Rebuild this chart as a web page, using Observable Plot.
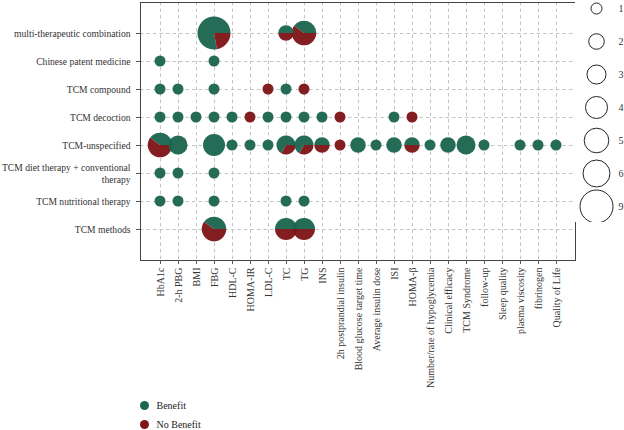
<!DOCTYPE html>
<html><head><meta charset="utf-8">
<script src="https://cdn.jsdelivr.net/npm/d3@7"></script>
<script src="https://cdn.jsdelivr.net/npm/@observablehq/plot@0.6"></script>
<style>
body{margin:0;background:#fff;}
#wrap{position:relative;width:624px;height:430px;overflow:hidden;font-family:"Liberation Serif",serif;}
#sizeLegend{position:absolute;left:575px;top:0;}
#colorLegend{position:absolute;left:139.5px;top:396px;font-size:10px;color:#222;}
.sw{display:flex;align-items:center;height:19px;}
.dot{width:9px;height:9px;border-radius:50%;margin-right:8px;}
</style></head><body>
<div id="wrap"><div id="main"></div><div id="sizeLegend"></div><div id="colorLegend"></div></div>
<script>
const interventions = [
  "multi-therapeutic combination",
  "Chinese patent medicine",
  "TCM compound",
  "TCM decoction",
  "TCM-unspecified",
  "TCM diet therapy + conventional therapy",
  "TCM nutritional therapy",
  "TCM methods"
];
const outcomes = [
  "HbA1c","2-h PBG","BMI","FBG","HDL-C","HOMA-IR","LDL-C","TC","TG","INS",
  "2h postprandial insulin","Blood glucose target time","Average insulin dose","ISI","HOMA-β",
  "Number/rate of hypoglycemia","Clinical efficacy","TCM Syndrome","follow-up","Sleep quality",
  "plasma viscosity","fibrinogen","Quality of Life"
];
const seriesNames = ["Benefit", "No Benefit"];
const seriesColors = ["#1c6650", "#7e1518"];
const sizeBreaks = [1, 2, 3, 4, 5, 6, 9];
// [intervention, outcome, benefit count, no-benefit count]
const studies = [
  ["multi-therapeutic combination","FBG",7,2],
  ["multi-therapeutic combination","TC",1,1],
  ["multi-therapeutic combination","TG",2,3],
  ["Chinese patent medicine","HbA1c",1,0],
  ["Chinese patent medicine","FBG",1,0],
  ["TCM compound","HbA1c",1,0],
  ["TCM compound","2-h PBG",1,0],
  ["TCM compound","FBG",1,0],
  ["TCM compound","LDL-C",0,1],
  ["TCM compound","TC",1,0],
  ["TCM compound","TG",0,1],
  ["TCM decoction","HbA1c",1,0],
  ["TCM decoction","2-h PBG",1,0],
  ["TCM decoction","BMI",1,0],
  ["TCM decoction","FBG",1,0],
  ["TCM decoction","HDL-C",1,0],
  ["TCM decoction","HOMA-IR",0,1],
  ["TCM decoction","LDL-C",1,0],
  ["TCM decoction","TC",1,0],
  ["TCM decoction","TG",1,0],
  ["TCM decoction","INS",1,0],
  ["TCM decoction","2h postprandial insulin",0,1],
  ["TCM decoction","ISI",1,0],
  ["TCM decoction","HOMA-β",0,1],
  ["TCM-unspecified","HbA1c",2,3],
  ["TCM-unspecified","2-h PBG",3,0],
  ["TCM-unspecified","FBG",4,0],
  ["TCM-unspecified","HDL-C",1,0],
  ["TCM-unspecified","HOMA-IR",1,0],
  ["TCM-unspecified","LDL-C",1,0],
  ["TCM-unspecified","TC",2,1],
  ["TCM-unspecified","TG",2,1],
  ["TCM-unspecified","INS",1,1],
  ["TCM-unspecified","2h postprandial insulin",0,1],
  ["TCM-unspecified","Blood glucose target time",2,0],
  ["TCM-unspecified","Average insulin dose",1,0],
  ["TCM-unspecified","ISI",2,0],
  ["TCM-unspecified","HOMA-β",1,1],
  ["TCM-unspecified","Number/rate of hypoglycemia",1,0],
  ["TCM-unspecified","Clinical efficacy",2,0],
  ["TCM-unspecified","TCM Syndrome",3,0],
  ["TCM-unspecified","follow-up",1,0],
  ["TCM-unspecified","plasma viscosity",1,0],
  ["TCM-unspecified","fibrinogen",1,0],
  ["TCM-unspecified","Quality of Life",1,0],
  ["TCM diet therapy + conventional therapy","HbA1c",1,0],
  ["TCM diet therapy + conventional therapy","2-h PBG",1,0],
  ["TCM diet therapy + conventional therapy","FBG",1,0],
  ["TCM nutritional therapy","HbA1c",1,0],
  ["TCM nutritional therapy","2-h PBG",1,0],
  ["TCM nutritional therapy","FBG",1,0],
  ["TCM nutritional therapy","TC",1,0],
  ["TCM nutritional therapy","TG",1,0],
  ["TCM methods","FBG",2,3],
  ["TCM methods","TC",2,2],
  ["TCM methods","TG",2,2]
];

const pieData = studies.map(([intervention, outcome, b, nb]) => ({intervention, outcome, b, nb, total: b + nb}));

const rScale = {type: "sqrt", domain: [1, 9], range: [5.5, 16.5]};
const fontStyle = {fontFamily: "'Liberation Serif', serif", fontSize: "10px", color: "#333", background: "#fff"};

function pieRender(index, scales, values) {
  const g = d3.create("svg:g");
  const arc = d3.arc().innerRadius(0);
  for (const i of index) {
    const d = pieData[i];
    const cx = values.x[i], cy = values.y[i], rr = values.r[i];
    const parts = [d.b, d.nb];
    let acc = 0;
    parts.forEach((v, k) => {
      if (v <= 0) return;
      const f0 = acc / d.total, f1 = (acc + v) / d.total;
      acc += v;
      const path = arc({outerRadius: rr, startAngle: Math.PI / 2 - 2 * Math.PI * f1, endAngle: Math.PI / 2 - 2 * Math.PI * f0});
      g.append("path")
        .attr("transform", `translate(${cx},${cy})`)
        .attr("d", path)
        .attr("fill", seriesColors[k])
        .attr("fill-opacity", 0.96);
    });
  }
  return g.node();
}

const main = Plot.plot({
  width: 624, height: 390,
  marginLeft: 140, marginRight: 49, marginTop: 2, marginBottom: 130,
  style: fontStyle,
  x: {type: "point", domain: outcomes, padding: 1},
  y: {type: "point", domain: interventions, padding: 1},
  r: rScale,
  marks: [
    Plot.gridX({stroke: "#c4c4c4", strokeOpacity: 1, strokeDasharray: "3.5,3"}),
    Plot.gridY({stroke: "#c4c4c4", strokeOpacity: 1, strokeDasharray: "3.5,3"}),
    Plot.frame({stroke: "#444", strokeWidth: 1}),
    Plot.axisX({tickRotate: -90, tickSize: 4, tickPadding: 3, label: null, stroke: "#555", fill: "#333"}),
    Plot.axisY({tickSize: 4, tickPadding: 6, label: null, stroke: "#555", fill: "#333", lineHeight: 1.2,
      fontSize: 9.6, fontFamily: "'Liberation Serif', serif",
      tickFormat: d => d.replace("+ conventional therapy", "+ conventional\ntherapy")}),
    Plot.dot(pieData, {x: "outcome", y: "intervention", r: "total", fill: seriesColors[0], render: pieRender})
  ]
});
document.getElementById("main").appendChild(main);

const sizeLeg = Plot.plot({
  width: 49, height: 222,
  marginLeft: 0, marginRight: 7, marginTop: 0, marginBottom: 0,
  style: fontStyle,
  y: {type: "point", domain: sizeBreaks.map(String), range: [6, 207], padding: 0, axis: null},
  r: rScale,
  marks: [
    Plot.dot(sizeBreaks, {y: d => String(d), r: d => d, stroke: "#222", fill: "none", strokeWidth: 1}),
    Plot.text(sizeBreaks, {y: d => String(d), text: d => String(d), dx: 22, textAnchor: "start", fill: "#333"})
  ]
});
document.getElementById("sizeLegend").appendChild(sizeLeg);

const cl = document.getElementById("colorLegend");
seriesNames.forEach((name, k) => {
  const row = document.createElement("div");
  row.className = "sw";
  const dot = document.createElement("span");
  dot.className = "dot";
  dot.style.background = seriesColors[k];
  const label = document.createElement("span");
  label.textContent = name;
  row.appendChild(dot);
  row.appendChild(label);
  cl.appendChild(row);
});
</script>
</body></html>
